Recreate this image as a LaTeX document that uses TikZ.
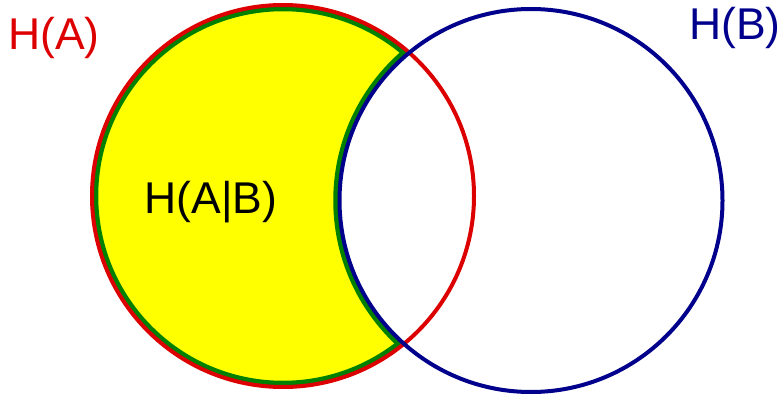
\documentclass[tikz,border=0pt]{standalone}
\usepackage{fontspec}
\setmainfont{Liberation Sans}
\definecolor{cred}{RGB}{221,0,0}
\definecolor{cblue}{RGB}{0,0,140}
\definecolor{cgreen}{RGB}{0,128,0}
\definecolor{cyellow}{RGB}{255,255,0}
\tikzset{
  lbl/.style={inner sep=0pt, anchor=base, font=\fontsize{44.5}{44.5}\selectfont},
}
\begin{document}
\begin{tikzpicture}[x=1pt,y=-1pt]
\useasboundingbox (0,0) rectangle (781,396);
\coordinate (ca) at (283,196);
\coordinate (cb) at (531,200.5);
\begin{scope}
  \clip (ca) circle[radius=191];
  \fill[cyellow] (ca) circle[radius=191];
  \draw[cgreen, line width=12.5pt] (ca) circle[radius=191];
  \draw[cgreen, line width=12.5pt] (cb) circle[radius=191.5];
  \fill[white] (cb) circle[radius=191.5];
\end{scope}
\draw[cred, line width=4pt] (ca) circle[radius=191];
\draw[cblue, line width=4pt] (cb) circle[radius=191.5];
\node[lbl, text=cred] (ha) at (54,50) {H(A)};
\node[lbl, text=cblue] (hb) at (735,40) {H(B)};
\node[lbl, text=black] (hab) at (211,213) {H(A|B)};
\end{tikzpicture}
\end{document}
